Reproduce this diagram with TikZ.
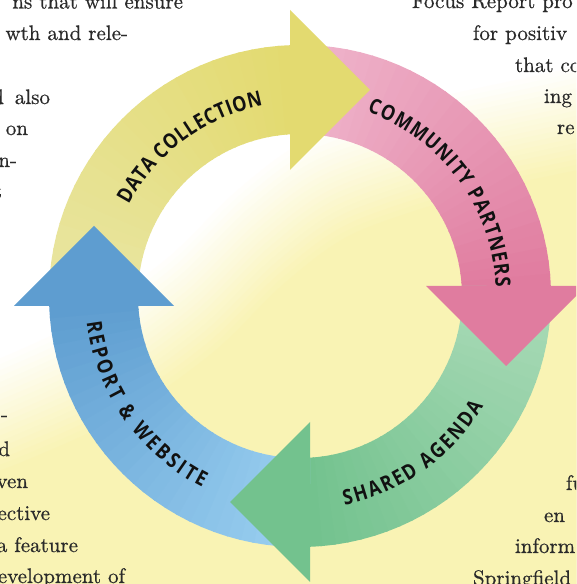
\documentclass[tikz,border=0pt]{standalone}
\usepackage{fontspec}
\newfontfamily\lblfam[FakeStretch=0.85]{Open Sans}
\newfontfamily\bodyfam[FakeBold=0.6]{lmroman10-regular.otf}
\usetikzlibrary{decorations.text}
\definecolor{bgy}{HTML}{F9F3B4}
\definecolor{bodytext}{HTML}{2A2A2A}
\definecolor{lbltext}{HTML}{111111}
\definecolor{yTail}{HTML}{E9E6A4}
\definecolor{yHead}{HTML}{E3DA70}
\definecolor{pTail}{HTML}{F0B8CE}
\definecolor{pHead}{HTML}{E07C9F}
\definecolor{gTail}{HTML}{ABDBB8}
\definecolor{gHead}{HTML}{73C28E}
\definecolor{bTail}{HTML}{9DD2F2}
\definecolor{bHead}{HTML}{5E9DD0}
\newcommand{\lblfont}{\lblfam\bfseries\fontsize{21}{21}\selectfont}
\newcommand{\bodyfont}{\bodyfam\fontsize{21}{25}\selectfont}
\newcommand{\ringshaft}[3]{%
  \begin{scope}[shift={(300,288)}, rotate=#3]
    \clip (182.283:251) arc[start angle=182.283, end angle=92.283, radius=251]
      -- (93.539:162) arc[start angle=93.539, end angle=183.539, radius=162] -- cycle;
    \foreach \i in {0,...,29} {
      \pgfmathsetmacro{\aa}{185-\i*3.1}
      \pgfmathsetmacro{\ab}{\aa-3.6}
      \pgfmathtruncatemacro{\pc}{\i*100/29}
      \fill[#2!\pc!#1] (0,0) -- (\aa:270) -- (\ab:270) -- cycle;
    }
  \end{scope}}
\newcommand{\ringhead}[2]{%
  \begin{scope}[shift={(300,288)}, rotate=#2]
    \fill[#1] (-10,286) -- (70,206) -- (-10,126) -- cycle;
  \end{scope}}
\begin{document}
\begin{tikzpicture}[x=1pt,y=1pt,
  body/.style={inner sep=0pt, outer sep=0pt, font=\bodyfont, text=bodytext},
  lbl/.style={decorate, decoration={text along path, text align={fit to path}, text color=lbltext}}]
\useasboundingbox (0,0) rectangle (576,584);
\clip (0,0) rectangle (576,584);
\fill[white] (0,0) rectangle (576,584);
% pale yellow glow (soft edge made of shifted copies)
\foreach \k in {0,...,20} {
  \pgfmathsetmacro{\sh}{55-5.5*\k}
  \pgfmathtruncatemacro{\pct}{5*\k}
  \fill[bgy!\pct!white, shift={({-0.45*\sh},{0.89*\sh})}]
    plot[smooth] coordinates {(-60,150) (0,172) (100,218) (190,282) (260,350) (330,400) (450,440) (576,468) (660,490)}
    -- (660,-120) -- (-60,-120) -- cycle;
}
% body text, left column
\node[body, anchor=base east] (l1) at (183,575.5) {ns that will ensure};
\node[body, anchor=base east] (l2) at (128,544) {wth and rele-};
\node[body, anchor=base east] (l3) at (50,480) {d\hspace{11pt}also};
\node[body, anchor=base east] (l4) at (28,449) {on};
\node[body, anchor=base east] (l5) at (17,417) {n-};
\node[body, anchor=base east] (l6) at (2,386) {t};
\node[body, anchor=base east] (l7) at (8,163) {-};
\node[body, anchor=base east] (l8) at (10,128) {d};
\node[body, anchor=base east] (l9) at (28,96) {ven};
\node[body, anchor=base east] (l10) at (50,64) {ective};
\node[body, anchor=base east] (l11) at (78,32) {a feature};
\node[body, anchor=base east] (l12) at (125,1) {development of};
% body text, right column
\node[body, anchor=base west] (r1) at (412,576) {Focus Report pro};
\node[body, anchor=base west] (r2) at (473,544) {for positiv};
\node[body, anchor=base west] (r3) at (515,512) {that co};
\node[body, anchor=base west] (r4) at (544,481) {ing};
\node[body, anchor=base west] (r5) at (557,450) {re};
\node[body, anchor=base west] (r6) at (566,94) {fu};
\node[body, anchor=base west] (r7) at (544,62) {en};
\node[body, anchor=base west] (r8) at (515,31) {inform};
\node[body, anchor=base west] (r9) at (473,-1) {Springfield};
% cycle arrows
\ringshaft{yTail}{yHead}{0}
\ringshaft{pTail}{pHead}{-90}
\ringshaft{gTail}{gHead}{-180}
\ringshaft{bTail}{bHead}{-270}
\ringhead{yHead}{0}
\ringhead{pHead}{-90}
\ringhead{gHead}{-180}
\ringhead{bHead}{-270}
% labels
\begin{scope}[shift={(300,288)}]
\path[lbl, decoration={text={|\lblfont|DATA COLLECTION}}] (152:194) arc[start angle=152, end angle=101, radius=194];
\path[lbl, decoration={text={|\lblfont|COMMUNITY PARTNERS}}] (70:196) arc[start angle=70, end angle=2.5, radius=196];
\path[lbl, decoration={text={|\lblfont|SHARED AGENDA}}] (282:214) arc[start angle=282, end angle=329, radius=214];
\path[lbl, decoration={text={|\lblfont|REPORT {\&} WEBSITE}}] (187:215) arc[start angle=187, end angle=243, radius=215];
\end{scope}
\end{tikzpicture}
\end{document}
